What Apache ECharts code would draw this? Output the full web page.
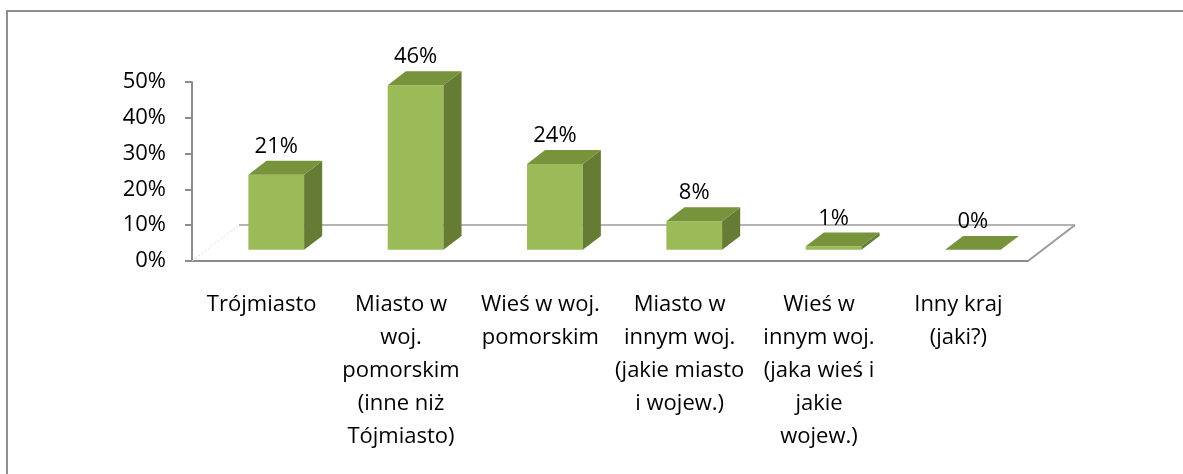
<!DOCTYPE html>
<html>
<head>
<meta charset="utf-8">
<script src="https://cdn.jsdelivr.net/npm/echarts@6/dist/echarts.min.js"></script>
<style>
  html, body { margin: 0; padding: 0; background: #fff; }
  #chart { width: 1183px; height: 474px; }
</style>
</head>
<body>
<div id="chart"></div>
<script>
// data
const categories = [
    'Trójmiasto',
    'Miasto w\nwoj.\npomorskim\n(inne niż\nTójmiasto)',
    'Wieś w woj.\npomorskim',
    'Miasto w\ninnym woj.\n(jakie miasto\ni wojew.)',
    'Wieś w\ninnym woj.\n(jaka wieś i\njakie\nwojew.)',
    'Inny kraj\n(jaki?)'
];
const percents = [21, 46, 24, 8, 1, 0];
const yTicks = [0, 10, 20, 30, 40, 50];

// fake 3d look
const floorDx = 47, floorDy = -36;
const barPos = 0.31, barDepth = 0.385, barWidth = 0.4;
const fontFam = 'Open Sans';
const fontSz = 22;

const myChart = echarts.init(document.getElementById('chart'));

function renderFloor(params, api) {
    const cs = params.coordSys;
    const x0 = cs.x, x1 = cs.x + cs.width, y0 = cs.y + cs.height;
    return {
        type: 'group',
        children: [{
            type: 'line',
            shape: { x1: x0 + floorDx, y1: y0 + floorDy, x2: x1 + floorDx, y2: y0 + floorDy },
            style: { stroke: '#b4b4b4', lineWidth: 2 }
        }, {
            type: 'line',
            shape: { x1: x1, y1: y0, x2: x1 + floorDx, y2: y0 + floorDy },
            style: { stroke: '#9a9a9a', lineWidth: 2 }
        }, {
            type: 'line',
            shape: { x1: x0, y1: y0, x2: x0 + floorDx, y2: y0 + floorDy },
            style: { stroke: '#dcdcdc', lineWidth: 1, lineDash: [2, 2] }
        }]
    };
}

function renderBar(params, api) {
    const idx = api.value(0);
    const v = api.value(1);
    const base = api.coord([idx, 0]);
    const topPt = api.coord([idx, v]);
    const band = api.size([1, 0])[0];
    const w = band * barWidth;
    const cx = base[0] + barPos * floorDx;
    const L = cx - w / 2, R = cx + w / 2;
    const B = base[1] + barPos * floorDy;
    const T = topPt[1] + barPos * floorDy;
    const dx = barDepth * floorDx, dy = barDepth * floorDy;
    return {
        type: 'group',
        children: [{
            type: 'rect',
            shape: { x: L, y: T, width: w, height: B - T },
            style: { fill: '#9bbb59' }
        }, {
            type: 'polygon',
            shape: { points: [[R, T], [R + dx, T + dy], [R + dx, B + dy], [R, B]] },
            style: { fill: '#667c35' }
        }, {
            type: 'polygon',
            shape: { points: [[L, T], [R, T], [R + dx, T + dy], [L + dx, T + dy]] },
            style: { fill: '#77933c' }
        }, {
            type: 'text',
            style: {
                text: v + '%',
                x: cx,
                y: T - 28,
                align: 'center',
                verticalAlign: 'middle',
                fill: '#000',
                font: fontSz + 'px "' + fontFam + '"'
            }
        }]
    };
}

const option = {
    animation: false,
    backgroundColor: '#fff',
    graphic: [{
        type: 'rect',
        shape: { x: 7, y: 11, width: 1300, height: 600 },
        style: { fill: 'none', stroke: '#8e8e8e', lineWidth: 2 },
        silent: true
    }],
    grid: { left: 192, right: 155, top: 82, bottom: 213 },
    xAxis: {
        type: 'category',
        data: categories,
        axisLine: { lineStyle: { color: '#8c8c8c', width: 2 } },
        axisTick: { length: 7, lineStyle: { color: '#8c8c8c', width: 2 } },
        axisLabel: {
            interval: 0,
            margin: 27,
            color: '#000',
            fontFamily: fontFam,
            fontSize: fontSz,
            lineHeight: 33,
            align: 'center'
        }
    },
    yAxis: {
        type: 'value',
        min: 0,
        max: 50,
        interval: 10,
        axisLine: { show: true, lineStyle: { color: '#8c8c8c', width: 2 } },
        axisTick: { show: true, length: 7, lineStyle: { color: '#8c8c8c', width: 2 } },
        splitLine: { show: false },
        axisLabel: {
            margin: 26,
            color: '#000',
            fontFamily: fontFam,
            fontSize: fontSz,
            formatter: function (val) {
                return yTicks.indexOf(val) >= 0 ? val + '%' : '';
            }
        }
    },
    series: [{
        type: 'custom',
        name: 'floor',
        renderItem: renderFloor,
        data: [[0, 0]],
        silent: true,
        z: 1
    }, {
        type: 'custom',
        name: 'bars',
        renderItem: renderBar,
        data: percents.map((p, i) => [i, p]),
        encode: { x: 0, y: 1 },
        z: 2
    }]
};

myChart.setOption(option);
</script>
</body>
</html>
